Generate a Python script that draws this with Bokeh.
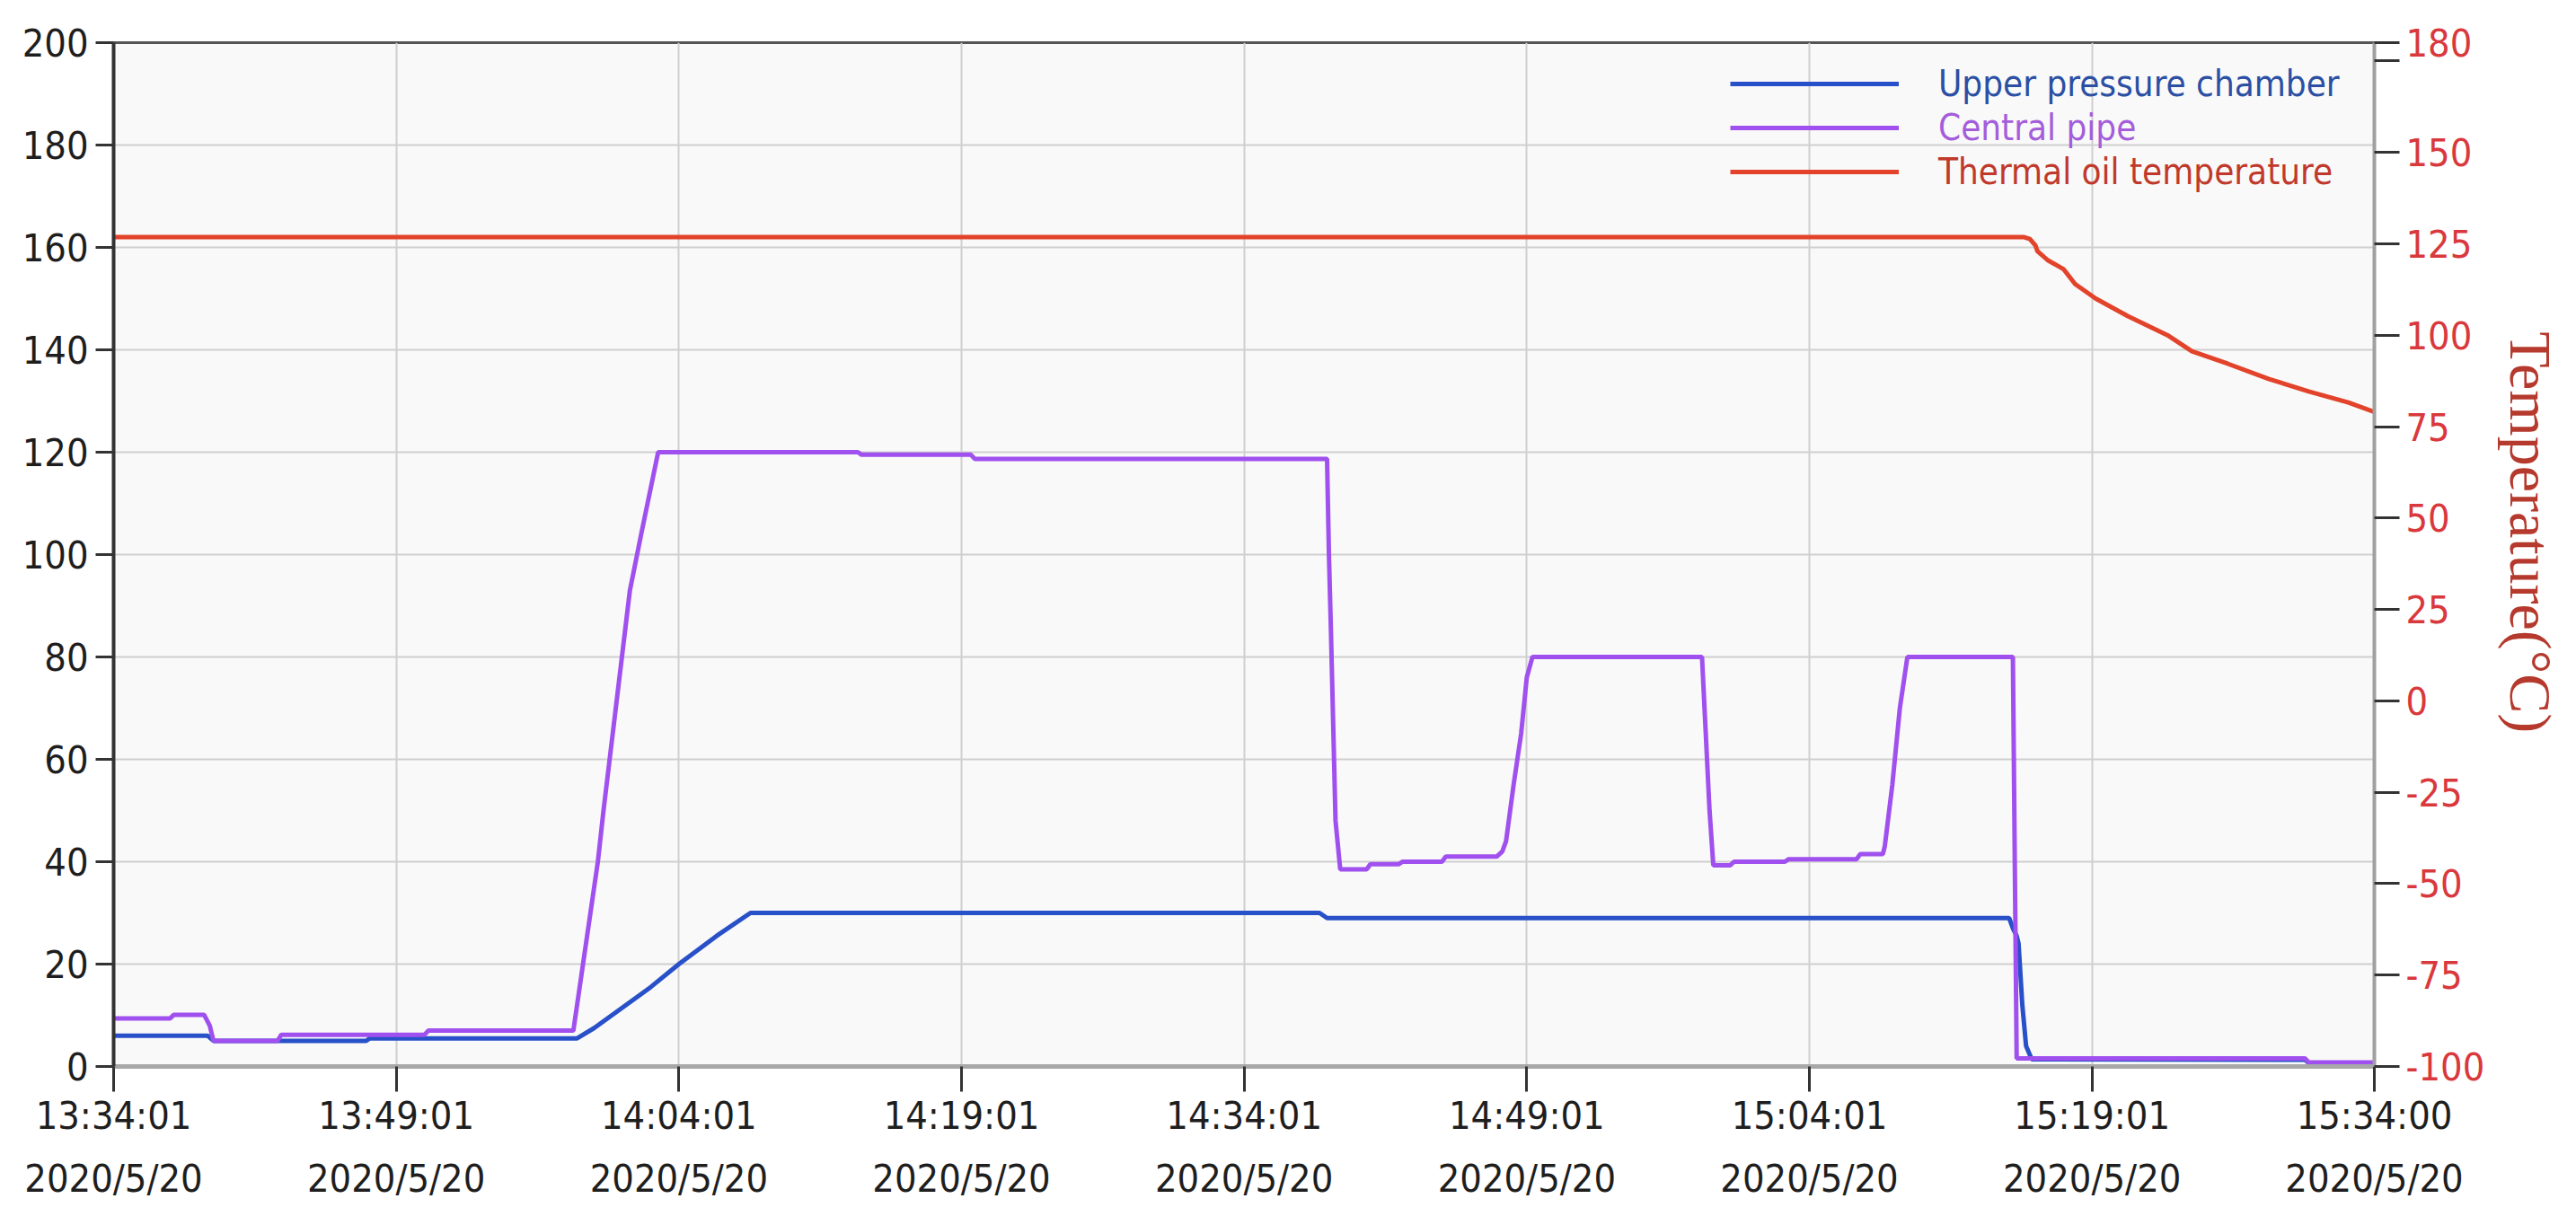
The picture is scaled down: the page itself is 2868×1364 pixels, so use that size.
from bokeh.plotting import figure
from bokeh.models import Range1d, LinearAxis, FixedTicker, Legend, LegendItem
from bokeh.embed import file_html
from bokeh.resources import INLINE

# ---------------- data ----------------
START = "13:34:01"
x_tick_times = ["13:34:01", "13:49:01", "14:04:01", "14:19:01", "14:34:01",
                "14:49:01", "15:04:01", "15:19:01", "15:34:00"]
x_tick_dates = ["2020/5/20"] * 9

left_ticks = [0, 20, 40, 60, 80, 100, 120, 140, 160, 180, 200]
right_ticks = [-100, -75, -50, -25, 0, 25, 50, 75, 100, 125, 150, 175, 180]
right_labels = ["-100", "-75", "-50", "-25", "0", "25", "50",
                "75", "100", "125", "150", "", "180"]
right_title = "Temperature(\u00b0C)"

# elapsed minutes since 13:34:01
upper_t = [0, 5.0, 5.3, 13.4, 13.6, 24.6, 25.5, 27.0, 28.5, 30.0, 32.0, 33.8,
           64.0, 64.4, 100.6, 100.8, 101.0, 101.1, 101.3, 101.5, 101.8,
           116.3, 116.5, 119.98]
upper_v = [6.0, 6.0, 5.0, 5.0, 5.5, 5.5, 7.5, 11.5, 15.5, 20.0, 25.5, 30.0,
           30.0, 29.0, 29.0, 27.0, 25.5, 24.0, 12.0, 4.0, 1.4,
           1.3, 0.7, 0.6]

pipe_t = [0, 3.0, 3.2, 4.8, 5.1, 5.3, 8.7, 8.9, 16.5, 16.7, 24.4, 25.7, 26.0,
          27.4, 28.0, 28.9, 39.5, 39.7, 45.5, 45.7, 64.4, 64.5, 64.6, 64.85,
          65.1, 66.5, 66.7, 68.2, 68.4, 70.5, 70.7, 73.4, 73.7, 73.9, 74.3,
          74.7, 75.0, 75.3, 84.3, 84.5, 84.7, 84.9, 85.8, 86.0, 88.7, 88.9,
          92.5, 92.7, 93.9, 94.0, 94.4, 94.8, 95.2, 100.8, 100.9, 101.0,
          116.3, 116.5, 119.98]
pipe_v = [9.4, 9.4, 10.1, 10.1, 8.0, 5.0, 5.0, 6.2, 6.2, 7.0, 7.0, 40.0, 50.0,
          93.0, 104.0, 120.0, 120.0, 119.5, 119.5, 118.7, 118.7, 100.0, 86.0,
          48.0, 38.5, 38.5, 39.5, 39.5, 40.0, 40.0, 41.0, 41.0, 42.0, 44.0,
          55.0, 65.0, 76.0, 80.0, 80.0, 65.0, 50.0, 39.3, 39.3, 40.0, 40.0,
          40.5, 40.5, 41.5, 41.5, 43.0, 55.0, 70.0, 80.0, 80.0, 40.0, 1.6,
          1.6, 0.8, 0.8]

oil_t = [0, 101.4, 101.7, 102.0, 102.1, 102.65, 103.5, 104.1, 105.2, 106.9,
         109.0, 110.3, 112.2, 114.4, 116.5, 118.6, 119.98]
oil_v = [126.8, 126.8, 126.3, 124.5, 123.0, 120.5, 118.0, 114.0, 110.0, 105.2,
         100.0, 95.6, 92.2, 88.0, 84.6, 81.6, 79.0]

series_names = ["Upper pressure chamber", "Central pipe", "Thermal oil temperature"]


def elapsed(s):
    h, m, sec = map(int, s.split(":"))
    h0, m0, s0 = map(int, START.split(":"))
    return round(((h * 3600 + m * 60 + sec) - (h0 * 3600 + m0 * 60 + s0)) / 60.0, 5)


x_ticks = [elapsed(t) for t in x_tick_times]

# ---------------- figure ----------------
NARROW = "DejaVu Sans Condensed"
p = figure(width=2860, height=1356, output_backend="svg", toolbar_location=None,
           x_range=Range1d(0, x_ticks[-1]), y_range=Range1d(0, 200),
           min_border_left=126, min_border_right=217, min_border_top=47,
           min_border_bottom=169)
p.extra_y_ranges = {"temp": Range1d(-100, 180)}
p.background_fill_color = "#f9f9f9"
p.border_fill_color = "white"
p.outline_line_color = "#555555"
p.outline_line_width = 3

# bottom axis (times)
xa = p.xaxis[0]
xa.ticker = FixedTicker(ticks=x_ticks)
xa.major_label_overrides = {k: v for k, v in zip(x_ticks, x_tick_times)}
xa.major_tick_out = 28
xa.major_tick_in = 0
xa.minor_tick_out = 0
xa.minor_tick_in = 0
xa.major_tick_line_color = "#333333"
xa.major_tick_line_width = 3
xa.axis_line_color = "#a8a8a8"
xa.axis_line_width = 5
xa.major_label_standoff = 1
xa.major_label_text_font = NARROW
xa.major_label_text_font_size = "43px"
xa.major_label_text_color = "#1e1e1e"

# second bottom axis (dates)
xa2 = LinearAxis(ticker=FixedTicker(ticks=x_ticks),
                 major_label_overrides={k: v for k, v in zip(x_ticks, x_tick_dates)})
xa2.major_tick_out = 0
xa2.major_tick_in = 0
xa2.minor_tick_out = 0
xa2.minor_tick_in = 0
xa2.axis_line_color = None
xa2.major_label_standoff = 17
xa2.major_label_text_font = NARROW
xa2.major_label_text_font_size = "43px"
xa2.major_label_text_color = "#1e1e1e"
p.add_layout(xa2, "below")

# left axis
ya = p.yaxis[0]
ya.ticker = FixedTicker(ticks=left_ticks)
ya.major_tick_out = 20
ya.major_tick_in = 0
ya.minor_tick_out = 0
ya.minor_tick_in = 0
ya.major_tick_line_color = "#333333"
ya.major_tick_line_width = 3
ya.axis_line_color = "#333333"
ya.axis_line_width = 4
ya.major_label_standoff = 8
ya.major_label_text_font = NARROW
ya.major_label_text_font_size = "43px"
ya.major_label_text_color = "#1e1e1e"

# right axis (temperature); trailing no-break spaces nudge the centred title upward
yr = LinearAxis(y_range_name="temp", ticker=FixedTicker(ticks=right_ticks),
                major_label_overrides={k: v for k, v in zip(right_ticks, right_labels)},
                axis_label=right_title + "\u00a0\u00a0\u00a0")
yr.major_tick_out = 28
yr.major_tick_in = 0
yr.minor_tick_out = 0
yr.minor_tick_in = 0
yr.major_tick_line_color = "#333333"
yr.major_tick_line_width = 3
yr.axis_line_color = "#a0a0a0"
yr.axis_line_width = 4
yr.major_label_standoff = 7
yr.major_label_text_font = NARROW
yr.major_label_text_font_size = "43px"
yr.major_label_text_color = "#d9383c"
yr.axis_label_text_font = "Liberation Serif"
yr.axis_label_text_font_size = "66px"
yr.axis_label_text_font_style = "normal"
yr.axis_label_text_color = "#b5392c"
yr.axis_label_standoff = 12
p.add_layout(yr, "right")

# grids
p.xgrid.grid_line_color = "#cfcfcf"
p.xgrid.grid_line_width = 2
p.ygrid.grid_line_color = "#cfcfcf"
p.ygrid.grid_line_width = 2

# ---------------- lines ----------------
r_up = p.line(upper_t, upper_v, line_color="#2850c8", line_width=5)
r_pipe = p.line(pipe_t, pipe_v, line_color="#a050ee", line_width=5)
r_oil = p.line(oil_t, oil_v, line_color="#e2432a", line_width=5, y_range_name="temp")

# ---------------- legend (one per entry so each label has its own colour) ----------------
legend_specs = [
    (series_names[0], r_up, "#2b4fa3", 1064),
    (series_names[1], r_pipe, "#a45ddb", 1015),
    (series_names[2], r_oil, "#c0392b", 966),
]
for name, rend, col, ypos in legend_specs:
    lg = Legend(items=[LegendItem(label=name, renderers=[rend])],
                location=(1800, ypos), orientation="vertical")
    lg.border_line_color = None
    lg.background_fill_alpha = 0
    lg.padding = 0
    lg.margin = 0
    lg.spacing = 0
    lg.glyph_width = 188
    lg.glyph_height = 60
    lg.label_height = 60
    lg.label_standoff = 44
    lg.label_text_font = NARROW
    lg.label_text_font_size = "40px"
    lg.label_text_color = col
    p.add_layout(lg, "center")

open("out.html", "w").write(file_html(p, INLINE))
